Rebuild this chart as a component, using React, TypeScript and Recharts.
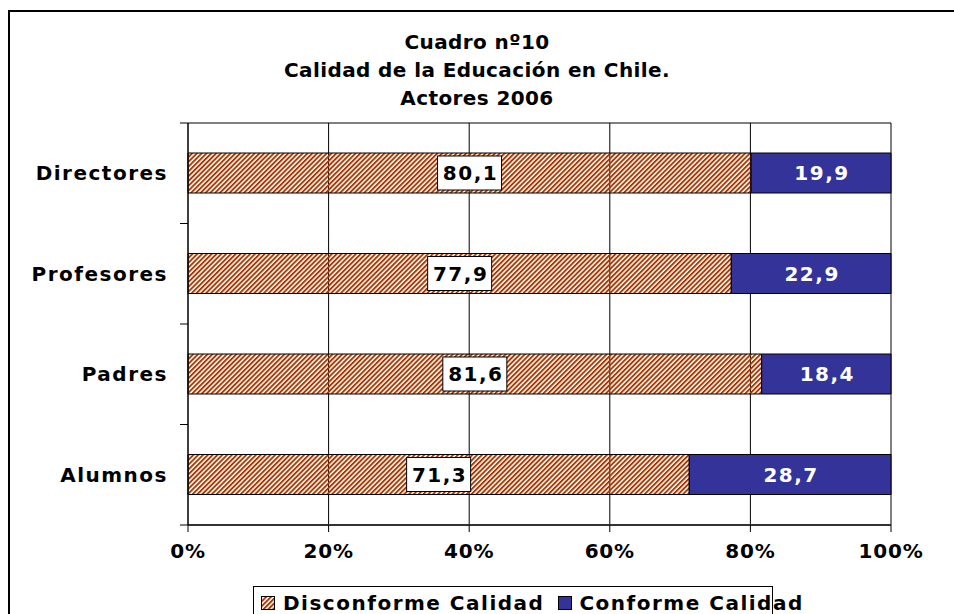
import { Bar, BarChart, CartesianGrid, LabelList, Legend, XAxis, YAxis } from "recharts";

const categories = ["Directores", "Profesores", "Padres", "Alumnos"];
const disconforme = [80.1, 77.9, 81.6, 71.3];
const conforme = [19.9, 22.9, 18.4, 28.7];
const percentTicks = [0, 0.2, 0.4, 0.6, 0.8, 1];
const titleLines = ["Cuadro nº10", "Calidad de la Educación en Chile.", "Actores 2006"];

const data = categories.map((name, i) => ({ name, disconforme: disconforme[i], conforme: conforme[i] }));

const W = 944;
const H = 602;
const M = { top: 111, right: 63, bottom: 4, left: 0 };
const Y_W = 178;
const X_H = 45;
const LEG_H = 40;
const BAND = (H - M.top - M.bottom - X_H - LEG_H) / categories.length;

const FONT = "'DejaVu Sans', Verdana, sans-serif";
const BLUE = "#333399";
const HATCH = "#a83800";

const fmt = (v: number) => v.toFixed(1).replace(".", ",");

function CatTick(props: any) {
	const { x, y, payload, index } = props;
	const half = BAND / 2;
	return (
		<g>
			<line x1={x - 8} x2={x} y1={y - half} y2={y - half} stroke="#000" />
			{index === categories.length - 1 && <line x1={x - 8} x2={x} y1={y + half} y2={y + half} stroke="#000" />}
			<text x={x - 20} y={y} textAnchor="end" dominantBaseline="central" fontFamily={FONT} fontWeight="bold" fontSize={20} letterSpacing={1.5} fill="#000">
				{payload.value}
			</text>
		</g>
	);
}

function BoxLabel(props: any) {
	const { x, y, width, height, value } = props;
	const cx = x + width / 2;
	const cy = y + height / 2;
	return (
		<g>
			<rect x={cx - 32} y={cy - 17} width={64} height={34} fill="#fff" stroke="#000" />
			<text x={cx + 1} y={cy} textAnchor="middle" dominantBaseline="central" fontFamily={FONT} fontWeight="bold" fontSize={20} letterSpacing={1.5} fill="#000">
				{fmt(value)}
			</text>
		</g>
	);
}

function WhiteLabel(props: any) {
	const { x, y, width, height, value } = props;
	return (
		<text x={x + width / 2 + 1} y={y + height / 2} textAnchor="middle" dominantBaseline="central" fontFamily={FONT} fontWeight="bold" fontSize={20} letterSpacing={1.5} fill="#fff">
			{fmt(value)}
		</text>
	);
}

function LegendBox() {
	const item = { display: "flex", alignItems: "center" } as const;
	return (
		<div style={{ boxSizing: "border-box", height: LEG_H, border: "1.5px solid #000", background: "#fff", display: "flex", alignItems: "flex-start", paddingLeft: 7, paddingTop: 4, fontFamily: FONT, fontWeight: "bold", fontSize: 20, lineHeight: "24px", letterSpacing: 1.5, whiteSpace: "nowrap" }}>
			<div style={item}>
				<svg width={14} height={14} style={{ marginRight: 8 }}>
					<defs>
						<pattern id="hatchLeg" patternUnits="userSpaceOnUse" width={3.4} height={3.4} patternTransform="rotate(45)">
							<rect x={0} y={0} width={1.9} height={3.4} fill={HATCH} />
						</pattern>
					</defs>
					<rect x={0.5} y={0.5} width={13} height={13} fill="url(#hatchLeg)" stroke="#000" />
				</svg>
				<span>Disconforme Calidad</span>
			</div>
			<div style={{ ...item, marginLeft: 14 }}>
				<svg width={14} height={14} style={{ marginRight: 7 }}>
					<rect x={0.5} y={0.5} width={13} height={13} fill={BLUE} stroke="#000" />
				</svg>
				<span>Conforme Calidad</span>
			</div>
		</div>
	);
}

export default function App() {
	return (
		<div style={{ position: "fixed", left: 8, top: 10, right: 0, bottom: 0, overflow: "hidden", borderTop: "2px solid #000", borderLeft: "2px solid #000", background: "#fff" }}>
			<div style={{ position: "absolute", left: 0, top: 16, width: 934, textAlign: "center", fontFamily: FONT, fontWeight: "bold", fontSize: 20, lineHeight: "28px", letterSpacing: 0.4, color: "#000" }}>
				{titleLines.map((t) => (
					<div key={t}>{t}</div>
				))}
			</div>
			<BarChart width={W} height={H} data={data} layout="vertical" stackOffset="expand" barSize={40} margin={M}>
				<defs>
					<pattern id="hatch" patternUnits="userSpaceOnUse" width={3.4} height={3.4} patternTransform="rotate(45)">
						<rect x={0} y={0} width={1.9} height={3.4} fill={HATCH} />
					</pattern>
				</defs>
				<CartesianGrid vertical={true} horizontal={true} horizontalPoints={[M.top]} stroke="#000" />
				<XAxis type="number" domain={[0, 1]} ticks={percentTicks} tickFormatter={(v: number) => `${Math.round(v * 100)}%`} height={X_H} tickSize={7} tickMargin={12} tickLine={{ stroke: "#000" }} axisLine={{ stroke: "#333", strokeWidth: 2 }} tick={{ fill: "#000", fontFamily: FONT, fontWeight: "bold", fontSize: 20, letterSpacing: 0.8 }} />
				<YAxis type="category" dataKey="name" width={Y_W} tickSize={0} tickMargin={0} tickLine={false} axisLine={{ stroke: "#000" }} tick={<CatTick />} interval={0} />
				<Legend verticalAlign="bottom" wrapperStyle={{ left: 243, top: 574, width: 520, height: LEG_H }} content={() => <LegendBox />} />
				<Bar dataKey="disconforme" stackId="a" fill="url(#hatch)" stroke="#000" strokeWidth={1} isAnimationActive={false}>
					<LabelList dataKey="disconforme" content={<BoxLabel />} />
				</Bar>
				<Bar dataKey="conforme" stackId="a" fill={BLUE} stroke="#000" strokeWidth={1} isAnimationActive={false}>
					<LabelList dataKey="conforme" content={<WhiteLabel />} />
				</Bar>
			</BarChart>
		</div>
	);
}
